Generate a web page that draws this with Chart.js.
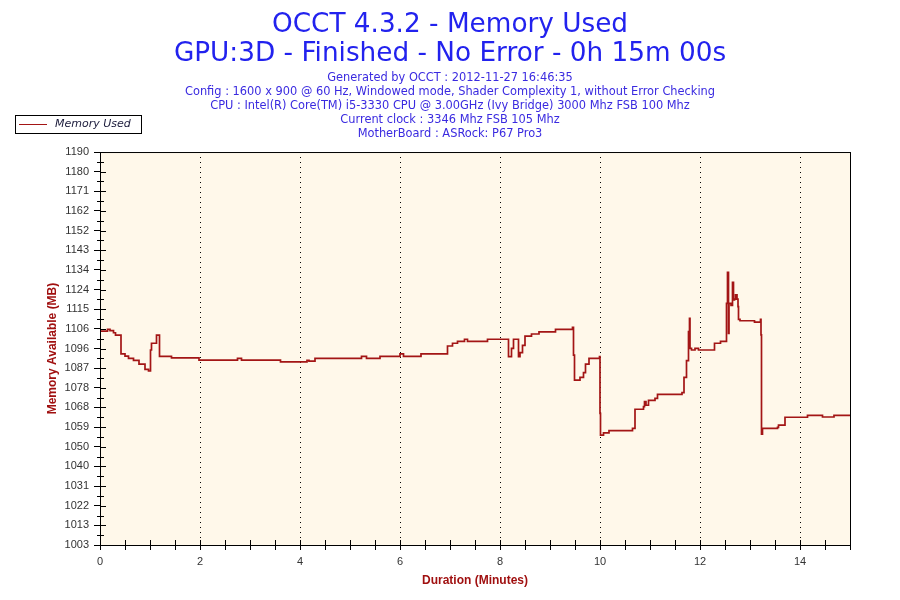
<!DOCTYPE html>
<html lang="en">
<head>
<meta charset="UTF-8">
<title>OCCT 4.3.2 - Memory Used</title>
<script src="https://cdn.jsdelivr.net/npm/chart.js"></script>
<style>
  body { margin: 0; background: #fff; }
  #wrap { width: 900px; height: 600px; }
</style>
</head>
<body>
<div id="wrap"><canvas id="memChart" width="900" height="600"></canvas></div>
<script>
// sample times (minutes) and memory values (MB); each value holds until the next sample
const times = [0.00, 0.15, 0.20, 0.27, 0.31, 0.42, 0.50, 0.57, 0.67, 0.78, 0.90, 0.97, 1.01, 1.03, 1.13, 1.19, 1.43, 1.98,
  2.75, 2.83, 3.61, 4.14, 4.18, 4.30, 5.23, 5.33, 5.60, 6.00, 6.07, 6.42, 6.95, 7.05, 7.15, 7.29, 7.35, 7.75,
  8.17, 8.23, 8.27, 8.37, 8.40, 8.45, 8.50, 8.63, 8.78, 9.11, 9.45, 9.47, 9.49, 9.60, 9.67, 9.71, 9.78, 9.99,
  10.00, 10.01, 10.07, 10.18, 10.65, 10.70, 10.87, 10.89, 10.92, 10.97, 11.10, 11.15, 11.64, 11.68, 11.73, 11.77,
  11.79, 11.80, 11.83, 11.90, 11.97, 12.29, 12.41, 12.53, 12.55, 12.57, 12.58, 12.62, 12.65, 12.67, 12.69, 12.71,
  12.74, 12.76, 12.77, 12.80, 13.09, 13.21, 13.22, 13.23, 13.25, 13.55, 13.57, 13.70, 14.15, 14.45, 14.68, 15.00];
const memUsed = [1104.8, 1105.6, 1105.0, 1104.0, 1102.9, 1093.9, 1092.9, 1091.8, 1090.9, 1089.1, 1086.6, 1085.8, 1095.8, 1099.0, 1102.9, 1092.8, 1092.0, 1091.0,
  1091.8, 1091.0, 1090.1, 1090.9, 1090.5, 1091.8, 1092.8, 1091.8, 1092.8, 1093.9, 1092.8, 1093.9, 1097.7, 1099.0, 1099.9, 1100.9, 1099.9, 1100.9,
  1092.6, 1096.6, 1100.9, 1092.6, 1094.5, 1098.0, 1102.4, 1103.4, 1104.4, 1105.6, 1106.6, 1093.4, 1081.5, 1082.8, 1085.0, 1089.1, 1091.8, 1092.6,
  1065.6, 1055.3, 1056.4, 1057.4, 1058.5, 1067.6, 1068.8, 1071.2, 1069.5, 1071.8, 1072.8, 1074.7, 1075.5, 1082.8, 1090.7, 1104.5,
  1110.8, 1096.6, 1095.8, 1096.6, 1095.8, 1099.0, 1099.9, 1118.0, 1132.7, 1103.7, 1118.0, 1117.0, 1128.0, 1119.6, 1120.0, 1122.0,
  1120.0, 1116.4, 1110.4, 1109.7, 1109.1, 1110.4, 1103.0, 1055.8, 1058.5, 1059.0, 1060.0, 1063.8, 1064.7, 1063.9, 1064.7, 1064.7];

const yTickLabels = ['1003', '1013', '1022', '1031', '1040', '1050', '1059', '1068', '1078', '1087', '1096',
  '1106', '1115', '1124', '1134', '1143', '1152', '1162', '1171', '1180', '1190'];
const yMin = 1003, yMax = 1190;

const titleLines = ['OCCT 4.3.2 - Memory Used', 'GPU:3D - Finished - No Error - 0h 15m 00s'];
const infoLines = [
  'Generated by OCCT : 2012-11-27 16:46:35',
  'Config : 1600 x 900 @ 60 Hz, Windowed mode, Shader Complexity 1, without Error Checking',
  'CPU : Intel(R) Core(TM) i5-3330 CPU @ 3.00GHz (Ivy Bridge) 3000 Mhz FSB 100 Mhz',
  'Current clock : 3346 Mhz FSB 105 Mhz',
  'MotherBoard : ASRock: P67 Pro3'
];

const LINE_RED = '#a31515';
const AXIS_RED = '#a01010';
const verdana = "'DejaVu Sans', Verdana, sans-serif";
const arial = "'Liberation Sans', Arial, sans-serif";
const yStep = (yMax - yMin) / (yTickLabels.length - 1);

// cream plot area, frame, inner tick marks and the boxed legend
const decor = {
  id: 'decor',
  beforeDraw(chart) {
    const { ctx, chartArea: a } = chart;
    ctx.save();
    ctx.fillStyle = '#fff8ea';
    ctx.fillRect(a.left, a.top, a.right - a.left, a.bottom - a.top);
    ctx.restore();
  },
  afterDraw(chart) {
    const { ctx, chartArea: a, scales } = chart;
    ctx.save();
    ctx.strokeStyle = '#000';
    ctx.lineWidth = 1;
    ctx.strokeRect(a.left + 0.5, a.top + 0.5, a.right - a.left, a.bottom - a.top);
    ctx.beginPath();
    for (let i = 0; i < yTickLabels.length; i++) {
      const y = Math.round(scales.y.getPixelForValue(yMin + i * yStep)) + 0.5;
      ctx.moveTo(a.left, y); ctx.lineTo(a.left + 6, y);
      if (i < yTickLabels.length - 1) {
        const ym = Math.round(scales.y.getPixelForValue(yMin + (i + 0.5) * yStep)) + 0.5;
        ctx.moveTo(a.left - 3, ym); ctx.lineTo(a.left + 4, ym);
      }
    }
    for (let t = 0; t <= 15; t += 0.5) {
      const x = Math.round(scales.x.getPixelForValue(t)) + 0.5;
      ctx.moveTo(x, a.bottom); ctx.lineTo(x, a.bottom - 5);
    }
    ctx.stroke();

    // legend
    ctx.fillStyle = '#fff';
    ctx.fillRect(15, 115, 126, 18);
    ctx.strokeRect(15.5, 115.5, 126, 18);
    ctx.strokeStyle = LINE_RED;
    ctx.beginPath(); ctx.moveTo(19, 124.5); ctx.lineTo(47, 124.5); ctx.stroke();
    ctx.fillStyle = '#1a1a3a';
    ctx.font = 'italic 11px ' + verdana;
    ctx.textBaseline = 'middle';
    ctx.fillText(chart.data.datasets[0].label, 55, 124);
    ctx.restore();
  }
};

new Chart(document.getElementById('memChart'), {
  type: 'line',
  data: {
    datasets: [{
      label: 'Memory Used',
      data: times.map((t, i) => ({ x: t, y: memUsed[i] })),
      borderColor: LINE_RED,
      borderWidth: 1.7,
      pointRadius: 0,
      stepped: true,
      fill: false
    }]
  },
  options: {
    responsive: false,
    animation: false,
    layout: { padding: 0 },
    plugins: {
      legend: { display: false },
      tooltip: { enabled: false },
      title: {
        display: true,
        text: titleLines,
        color: '#2222ee',
        font: { family: verdana, size: 26.3, weight: 'normal', lineHeight: 1.12 },
        padding: { top: 10, bottom: 0 }
      },
      subtitle: {
        display: true,
        text: infoLines,
        color: '#3a2ae0',
        font: { family: verdana, size: 11.4, lineHeight: 1.23 },
        padding: { top: 2, bottom: 11 }
      }
    },
    scales: {
      x: {
        type: 'linear',
        min: 0,
        max: 15,
        ticks: {
          stepSize: 0.5,
          autoSkip: false,
          maxRotation: 0,
          padding: 5,
          color: '#333',
          font: { family: arial, size: 11 },
          callback: v => (v % 2 === 0 ? String(v) : '')
        },
        grid: {
          color: c => (c.tick && c.tick.value % 2 === 0 && c.tick.value > 0 && c.tick.value < 15 ? '#000' : 'rgba(0,0,0,0)'),
          tickColor: '#000',
          tickLength: 5,
          lineWidth: 1
        },
        border: { color: '#000', dash: [1, 4] },
        title: {
          display: true,
          text: 'Duration (Minutes)',
          color: AXIS_RED,
          font: { family: arial, size: 12, weight: 'bold' },
          padding: { top: 0, bottom: 12 }
        },
        afterFit: s => { s.height = 55; }
      },
      y: {
        min: yMin,
        max: yMax,
        afterBuildTicks: s => { s.ticks = yTickLabels.map((_, i) => ({ value: yMin + i * yStep })); },
        ticks: {
          padding: 5,
          color: '#333',
          font: { family: arial, size: 11 },
          callback: (v, i) => yTickLabels[i]
        },
        grid: { drawOnChartArea: false, tickColor: '#000', tickLength: 6 },
        border: { color: '#000' },
        title: {
          display: true,
          text: 'Memory Available (MB)',
          color: AXIS_RED,
          font: { family: arial, size: 12, weight: 'bold' },
          padding: { top: 45, bottom: 0 }
        },
        afterFit: s => { s.width = 100; }
      },
      // empty right-hand axis only reserves the 50px margin so the titles stay centred on the page
      yRight: {
        position: 'right',
        display: true,
        ticks: { display: false },
        grid: { display: false, drawTicks: false },
        border: { display: false },
        afterFit: s => { s.width = 50; }
      }
    }
  },
  plugins: [decor]
});
</script>
</body>
</html>
